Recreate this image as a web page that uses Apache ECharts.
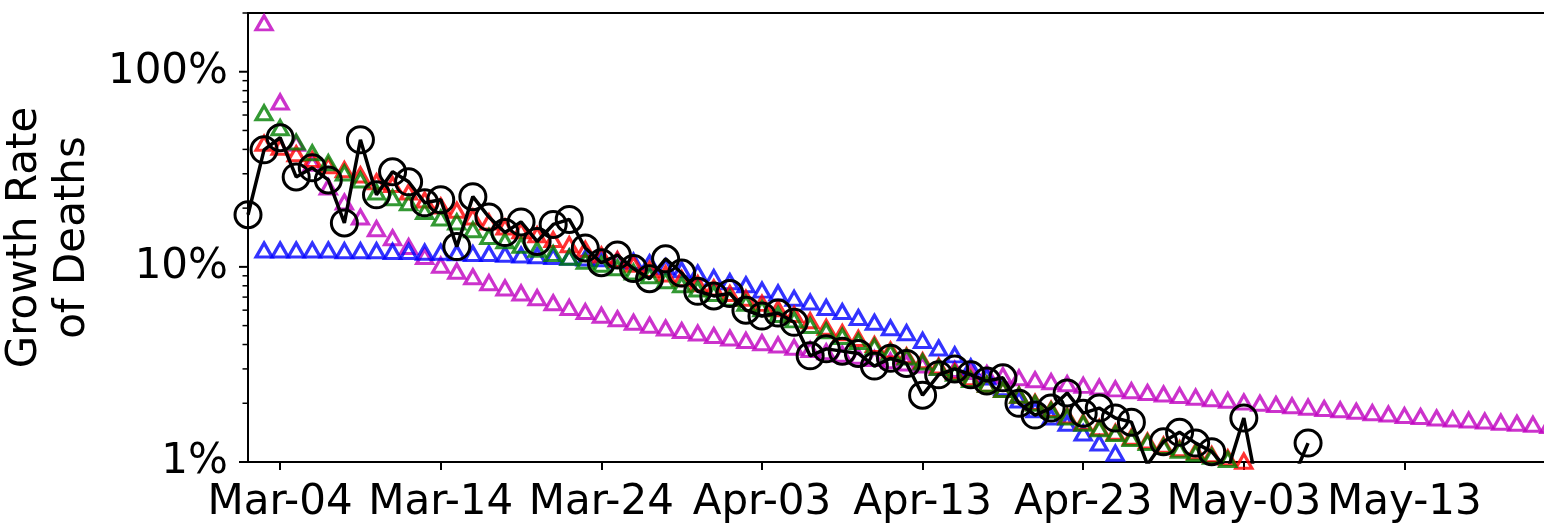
<!DOCTYPE html>
<html>
<head>
<meta charset="utf-8">
<script src="https://cdn.jsdelivr.net/npm/echarts@6/dist/echarts.min.js"></script>
<style>
  html, body { margin: 0; padding: 0; background: #fff; }
  #chart { width: 1544px; height: 530px; }
</style>
</head>
<body>
<div id="chart"></div>
<script>
// Daily dates, Mar-02 .. May-22
const dates = (function () {
  const out = [];
  const monthNames = ['Mar', 'Apr', 'May'];
  const monthDays = [31, 30, 31];
  let m = 0, d = 2;
  for (let i = 0; i < 82; i++) {
    out.push(monthNames[m] + '-' + String(d).padStart(2, '0'));
    d++;
    if (d > monthDays[m]) { d = 1; m++; }
  }
  return out;
})();

const xTickLabels = ['Mar-04', 'Mar-14', 'Mar-24', 'Apr-03', 'Apr-13', 'Apr-23', 'May-03', 'May-13'];
const yTickLabels = [1, 10, 100];
const yMinorTicks = [2, 3, 4, 5, 6, 7, 8, 9, 20, 30, 40, 50, 60, 70, 80, 90, 200];

// Growth rate of deaths (%), one value per date; null = no value
const observed = [18.5, 39.8, 45.9, 28.9, 32.2, 27.9, 16.8, 44.8, 23.4, 30.7,
  27.3, 21.3, 22.1, 12.7, 22.9, 18.0, 15.0, 17.0, 13.5, 16.5,
  17.5, 12.5, 10.5, 11.5, 9.8, 8.7, 11.0, 9.3, 7.5, 7.1,
  7.3, 6.0, 5.6, 5.8, 5.2, 3.5, 3.8, 3.7, 3.6, 3.1,
  3.4, 3.2, 2.2, 2.8, 3.0, 2.8, 2.6, 2.7, 2.0, 1.74,
  1.89, 2.26, 1.78, 1.89, 1.68, 1.60, 0.97, 1.27, 1.42, 1.25,
  1.13, 0.91, 1.68, 0.63, 0.5, 0.8, 1.25, null, null, null,
  null, null, null, null, null, null, null, null, null, null,
  null, null];

const modelMagenta = [null, 178, 70, 43, 34, 25.7, 21.5, 18.0, 15.7, 14.1,
  12.7, 11.3, 10.2, 9.5, 8.9, 8.3, 7.8, 7.35, 6.95, 6.55,
  6.2, 5.9, 5.65, 5.42, 5.2, 5.02, 4.86, 4.72, 4.58, 4.45,
  4.32, 4.2, 4.09, 3.98, 3.87, 3.77, 3.67, 3.57, 3.48, 3.39,
  3.30, 3.22, 3.14, 3.06, 2.98, 2.91, 2.84, 2.77, 2.70, 2.64,
  2.58, 2.52, 2.47, 2.42, 2.37, 2.32, 2.27, 2.23, 2.19, 2.15,
  2.11, 2.07, 2.03, 2.00, 1.97, 1.94, 1.91, 1.88, 1.85, 1.82,
  1.79, 1.76, 1.73, 1.71, 1.68, 1.66, 1.64, 1.62, 1.60, 1.58,
  1.56, 1.54];

const modelBlue = [null, 12.2, 12.2, 12.2, 12.2, 12.2, 12.1, 12.1, 12.1, 12.0,
  12.0, 11.9, 11.9, 11.8, 11.7, 11.7, 11.6, 11.5, 11.4, 11.3,
  11.2, 11.1, 11.0, 10.8, 10.7, 10.5, 10.0, 9.66, 9.3, 8.8,
  8.4, 8.1, 7.6, 7.35, 6.9, 6.6, 6.2, 5.9, 5.5, 5.2,
  4.87, 4.6, 4.2, 3.84, 3.54, 3.07, 2.73, 2.4, 2.08, 1.85,
  1.7, 1.58, 1.41, 1.25, 1.11, 0.98, null, null, null, null,
  null, null, null, null, null, null, null, null, null, null,
  null, null, null, null, null, null, null, null, null, null,
  null, null];

const modelRed = [null, 43, 41, 38, 35.5, 33, 31.5, 29.6, 27.3, 26.4,
  24.2, 22, 20.5, 19.5, 18, 17, 16, 15.3, 14.6, 13.8,
  13, 12.3, 11.5, 10.9, 10.3, 9.7, 9.2, 8.7, 8.2, 7.8,
  7.3, 6.9, 6.5, 6.1, 5.7, 5.3, 4.9, 4.6, 4.3, 4.0,
  3.75, 3.5, 3.3, 3.1, 2.9, 2.7, 2.5, 2.35, 2.2, 2.02,
  1.86, 1.72, 1.6, 1.5, 1.42, 1.34, 1.28, 1.22, 1.17, 1.13,
  1.09, 1.05, 1.01, null, null, null, null, null, null, null,
  null, null, null, null, null, null, null, null, null, null,
  null, null];

const modelGreen = [null, 61.6, 51.7, 43.6, 38.4, 34.2, 30.3, 27.9, 24.2, 22.6,
  21.3, 19.2, 17.8, 17.0, 15.5, 14.3, 13.6, 12.9, 12.3, 11.7,
  11.2, 10.7, 10.3, 9.9, 9.4, 9.0, 8.5, 8.1, 7.7, 7.3,
  6.9, 6.5, 6.1, 5.7, 5.35, 5.0, 4.7, 4.4, 4.15, 3.9,
  3.65, 3.45, 3.25, 3.05, 2.85, 2.65, 2.5, 2.35, 2.2, 2.0,
  1.84, 1.7, 1.58, 1.48, 1.4, 1.32, 1.26, 1.2, 1.15, 1.11,
  1.07, 1.03, 0.99, null, null, null, null, null, null, null,
  null, null, null, null, null, null, null, null, null, null,
  null, null];

const FONT = 'DejaVu Sans';

function triangleSeries(name, data, color) {
  return {
    name: name,
    type: 'scatter',
    data: data,
    symbol: 'triangle',
    symbolSize: [16, 14],
    itemStyle: { color: 'rgba(0,0,0,0)', borderColor: color, borderWidth: 3.2 },
    emphasis: { disabled: true },
    clip: true,
    z: 3
  };
}

const chart = echarts.init(document.getElementById('chart'), null, { renderer: 'canvas' });

chart.setOption({
  animation: false,
  backgroundColor: '#fff',
  grid: {
    left: 248, top: 13, right: -5, bottom: 68,
    outerBoundsMode: 'none',
    containLabel: false,
    show: true, borderColor: '#000', borderWidth: 2, backgroundColor: 'transparent'
  },
  xAxis: {
    type: 'category',
    data: dates,
    boundaryGap: false,
    axisLine: { lineStyle: { color: '#000', width: 2 } },
    axisTick: {
      length: 8, lineStyle: { color: '#000', width: 2 },
      interval: function (i, v) { return xTickLabels.indexOf(v) >= 0; }
    },
    axisLabel: {
      interval: function (i, v) { return xTickLabels.indexOf(v) >= 0; },
      fontFamily: FONT, fontSize: 42, color: '#000', margin: 20,
      hideOverlap: false
    },
    splitLine: { show: false }
  },
  yAxis: {
    type: 'log',
    logBase: 10,
    min: 1,
    max: 200,
    name: 'Growth Rate\nof Deaths',
    nameLocation: 'middle',
    nameRotate: 90,
    nameGap: 142,
    nameTextStyle: { fontFamily: FONT, fontSize: 42, color: '#000', lineHeight: 48 },
    axisLine: { show: true, lineStyle: { color: '#000', width: 2 } },
    axisTick: { show: false },
    axisLabel: {
      fontFamily: FONT, fontSize: 42, color: '#000', margin: 20,
      showMaxLabel: false,
      formatter: function (v) {
        const r = Math.round(v);
        return yTickLabels.indexOf(r) >= 0 && Math.abs(v - r) < 1e-6 ? r + '%' : '';
      }
    },
    splitLine: { show: false }
  },
  series: [
    {
      // y-axis tick marks: decades (long) and 2..9 subdivisions (short)
      type: 'custom',
      silent: true,
      clip: false,
      data: yTickLabels.map(function (v) { return [0, v, 1]; })
        .concat(yMinorTicks.map(function (v) { return [0, v, 0]; })),
      renderItem: function (params, api) {
        const p = api.coord([api.value(0), api.value(1)]);
        const major = api.value(2) === 1;
        const len = major ? 8 : 4.5;
        return {
          type: 'line',
          shape: { x1: p[0] - len - 1, y1: p[1], x2: p[0], y2: p[1] },
          style: { stroke: '#000', lineWidth: major ? 2 : 1.5 }
        };
      },
      z: 5
    },
    triangleSeries('m', modelMagenta, '#BF00BF'),
    triangleSeries('b', modelBlue, '#0000FF'),
    triangleSeries('r', modelRed, '#FF0000'),
    triangleSeries('g', modelGreen, '#008000'),
    {
      name: 'observed',
      type: 'line',
      data: observed,
      connectNulls: false,
      symbol: 'circle',
      symbolSize: 26,
      showAllSymbol: true,
      itemStyle: { color: 'rgba(0,0,0,0)', borderColor: '#000', borderWidth: 3 },
      lineStyle: { color: '#000', width: 3.5 },
      emphasis: { disabled: true },
      clip: true,
      z: 4
    }
  ]
});
</script>
</body>
</html>
